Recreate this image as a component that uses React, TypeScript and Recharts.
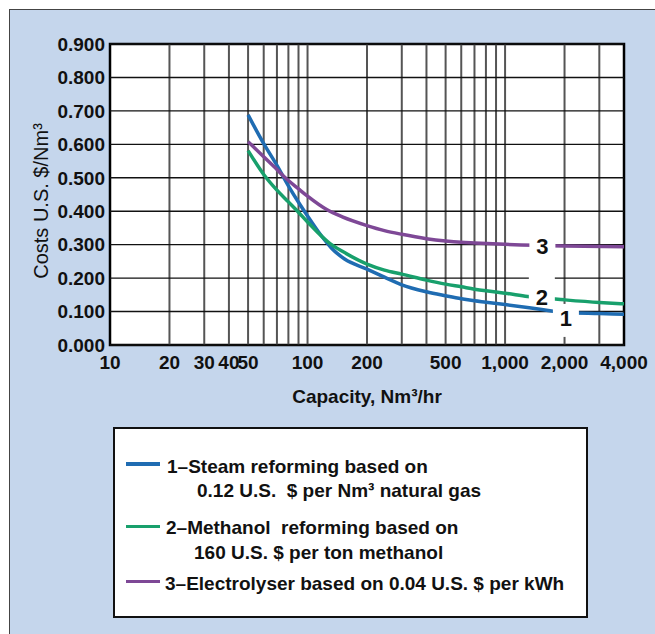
import { LineChart, Line, XAxis, YAxis, CartesianGrid, ReferenceLine, ReferenceArea, ReferenceDot, Legend, Label } from "recharts"

// capacity axis (log) and cost axis
const capacityTicks = [10, 20, 30, 40, 50, 100, 200, 500, 1000, 2000, 4000]
const capacityGrid = [20, 30, 40, 50, 60, 70, 80, 90, 100, 200, 300, 400, 500, 600, 700, 800, 900, 1000, 2000, 3000]
const costTicks = [0, 0.1, 0.2, 0.3, 0.4, 0.5, 0.6, 0.7, 0.8, 0.9]

const seriesNames = ["Steam reforming", "Methanol reforming", "Electrolyser"]

// 1 - steam reforming
const steamCapacity = [50, 60, 70, 80, 90, 100, 117, 132, 154, 200, 245, 300, 400, 500, 600, 700, 800, 1000, 1500, 2000, 3000, 4000]
const steamCost = [0.688, 0.602, 0.537, 0.476, 0.427, 0.386, 0.328, 0.29, 0.257, 0.227, 0.203, 0.18, 0.159, 0.147, 0.138, 0.132, 0.128, 0.121, 0.107, 0.097, 0.094, 0.092]

// 2 - methanol reforming
const methanolCapacity = [50, 60, 70, 80, 90, 100, 130, 150, 200, 245, 300, 400, 500, 600, 700, 800, 1000, 1300, 2000, 3000, 4000]
const methanolCost = [0.581, 0.51, 0.463, 0.428, 0.397, 0.368, 0.303, 0.28, 0.242, 0.224, 0.212, 0.194, 0.182, 0.174, 0.167, 0.162, 0.155, 0.145, 0.135, 0.127, 0.123]

// 3 - electrolyser
const electroCapacity = [50, 60, 70, 75, 80, 90, 100, 125, 150, 200, 245, 300, 400, 500, 600, 700, 1000, 2000, 4000]
const electroCost = [0.608, 0.563, 0.525, 0.507, 0.492, 0.467, 0.445, 0.405, 0.383, 0.357, 0.342, 0.331, 0.318, 0.311, 0.307, 0.305, 0.301, 0.296, 0.294]

// curve numbers written on the lines
const tagText = ["3", "2", "1"]
const tagCapacity = [1545, 1535, 2032]
const tagCost = [0.296, 0.1435, 0.078]

const legendText = [
  ["1–Steam reforming based on", "0.12 U.S.  $ per Nm³ natural gas"],
  ["2–Methanol  reforming based on", "160 U.S. $ per ton methanol"],
  ["3–Electrolyser based on 0.04 U.S. $ per kWh"],
]

const FONT = "'Liberation Sans', Arial, Helvetica, sans-serif"
const COLORS = ["#1f6cb2", "#18a06c", "#7e4896"]

// white box behind each curve number: [top, bottom] offsets
const TAG_BOX: Record<string, number[]> = { "3": [-13, 13], "2": [-20, 5], "1": [-15, 18] }

// legend layout inside the box
const LEGEND_ROWS = [
  { swatch: 35, lines: [{ y: 37.7, left: 52 }, { y: 61.7, left: 82 }] },
  { swatch: 97.7, lines: [{ y: 99.3, left: 51 }, { y: 124.3, left: 79 }] },
  { swatch: 152.7, lines: [{ y: 155.3, left: 50 }] },
]

const toPoints = (xs: number[], ys: number[]) => xs.map((x, i) => ({ x, y: ys[i] }))

const steamData = toPoints(steamCapacity, steamCost)
const methanolData = toPoints(methanolCapacity, methanolCost)
const electroData = toPoints(electroCapacity, electroCost)

const XTitle = ({ viewBox }: any) => (
  <text x={viewBox.x + viewBox.width / 2} y={viewBox.y + 58} textAnchor="middle" fontSize={19} fontWeight={700} fontFamily={FONT} fill="#111">
    Capacity, Nm³/hr
  </text>
)

const YTitle = ({ viewBox }: any) => {
  const cx = viewBox.x + 40.5
  const cy = viewBox.y + viewBox.height / 2 + 6.5
  return (
    <text x={cx} y={cy} transform={`rotate(-90 ${cx} ${cy})`} textAnchor="middle" dominantBaseline="central" fontSize={20} fontFamily={FONT} fill="#111">
      Costs U.S. $/Nm³
    </text>
  )
}

const CurveTag = ({ cx, cy, text }: any) => {
  const [top, bottom] = TAG_BOX[text]
  return (
    <g>
      <rect x={cx - 13} y={cy + top} width={26} height={bottom - top} fill="#fff" />
      <text x={cx} y={cy} textAnchor="middle" dominantBaseline="central" fontSize={22} fontWeight={700} fontFamily={FONT} fill="#111">
        {text}
      </text>
    </g>
  )
}

const LegendBox = ({ payload }: any) => {
  // keep the legend in series order (1, 2, 3)
  const entries = seriesNames.map((n) => (payload || []).find((p: any) => p.value === n)).filter(Boolean)
  return (
    <div
      style={{
        width: 475,
        height: 191,
        boxSizing: "border-box",
        border: "2px solid #111",
        background: "#fff",
        position: "relative",
        fontFamily: FONT,
        fontWeight: 700,
        fontSize: 19,
        color: "#111",
      }}
    >
      {entries.map((entry: any, i: number) => (
        <div key={`row-${i}`}>
          <div style={{ position: "absolute", left: 11, top: LEGEND_ROWS[i].swatch - 1.75, width: 34, height: 3.5, background: entry.color }} />
          {legendText[i].map((t, j) => (
            <div
              key={`t-${i}-${j}`}
              style={{ position: "absolute", left: LEGEND_ROWS[i].lines[j].left, top: LEGEND_ROWS[i].lines[j].y - 10, lineHeight: "20px", whiteSpace: "pre" }}
            >
              {t}
            </div>
          ))}
        </div>
      ))}
    </div>
  )
}

export default function App() {
  const tickStyle = { fill: "#111", fontSize: 19, fontWeight: 700, fontFamily: FONT }
  return (
    <div style={{ position: "absolute", left: 0, top: 0, width: 655, height: 634, background: "#fff", overflow: "hidden" }}>
      <div
        style={{
          position: "absolute",
          left: 9,
          top: 9,
          right: 0,
          bottom: 0,
          background: "#c5d6ec",
          borderLeft: "1.5px solid #444",
          borderTop: "1.5px solid #444",
        }}
      />
      <div style={{ position: "absolute", left: 0, top: 0 }}>
        <LineChart width={655} height={634} margin={{ top: 44, right: 31, bottom: 214, left: 0 }}>
          <CartesianGrid vertical={false} horizontal={false} fill="#fff" fillOpacity={1} />
          <XAxis
            dataKey="x"
            type="number"
            scale="log"
            domain={[10, 4000]}
            allowDataOverflow
            ticks={capacityTicks}
            interval={0}
            tickFormatter={(v: number) => v.toLocaleString("en-US")}
            tick={tickStyle}
            tickLine={false}
            axisLine={false}
            tickSize={6}
            tickMargin={5}
            height={75}
          >
            <Label content={XTitle} />
          </XAxis>
          <YAxis
            type="number"
            domain={[0, 0.9]}
            ticks={costTicks}
            interval={0}
            tickFormatter={(v: number) => v.toFixed(3)}
            tick={tickStyle}
            tickLine={false}
            axisLine={false}
            tickSize={5}
            tickMargin={0}
            width={110}
          >
            <Label content={YTitle} />
          </YAxis>
          {capacityGrid.map((c) => (
            <ReferenceLine key={`gx-${c}`} x={c} stroke="#555" strokeWidth={2} />
          ))}
          {costTicks.map((c) => (
            <ReferenceLine key={`gy-${c}`} y={c} stroke="#111" strokeWidth={1.4} />
          ))}
          <ReferenceArea x1={10} x2={4000} y1={0} y2={0.9} fill="none" stroke="#000" strokeWidth={2.5} ifOverflow="visible" />
          <Line data={steamData} dataKey="y" name={seriesNames[0]} type="monotone" stroke={COLORS[0]} strokeWidth={3.5} dot={false} isAnimationActive={false} />
          <Line data={methanolData} dataKey="y" name={seriesNames[1]} type="monotone" stroke={COLORS[1]} strokeWidth={3.5} dot={false} isAnimationActive={false} />
          <Line data={electroData} dataKey="y" name={seriesNames[2]} type="monotone" stroke={COLORS[2]} strokeWidth={3.5} dot={false} isAnimationActive={false} />
          {tagText.map((t, i) => (
            <ReferenceDot
              key={`tag-${t}`}
              x={tagCapacity[i]}
              y={tagCost[i]}
              ifOverflow="visible"
              shape={(p: any) => <CurveTag {...p} text={t} />}
            />
          ))}
          <Legend
            layout="horizontal"
            verticalAlign="middle"
            align="center"
            wrapperStyle={{ left: 113, top: 427, width: 475, height: 191 }}
            content={LegendBox}
          />
        </LineChart>
      </div>
    </div>
  )
}
